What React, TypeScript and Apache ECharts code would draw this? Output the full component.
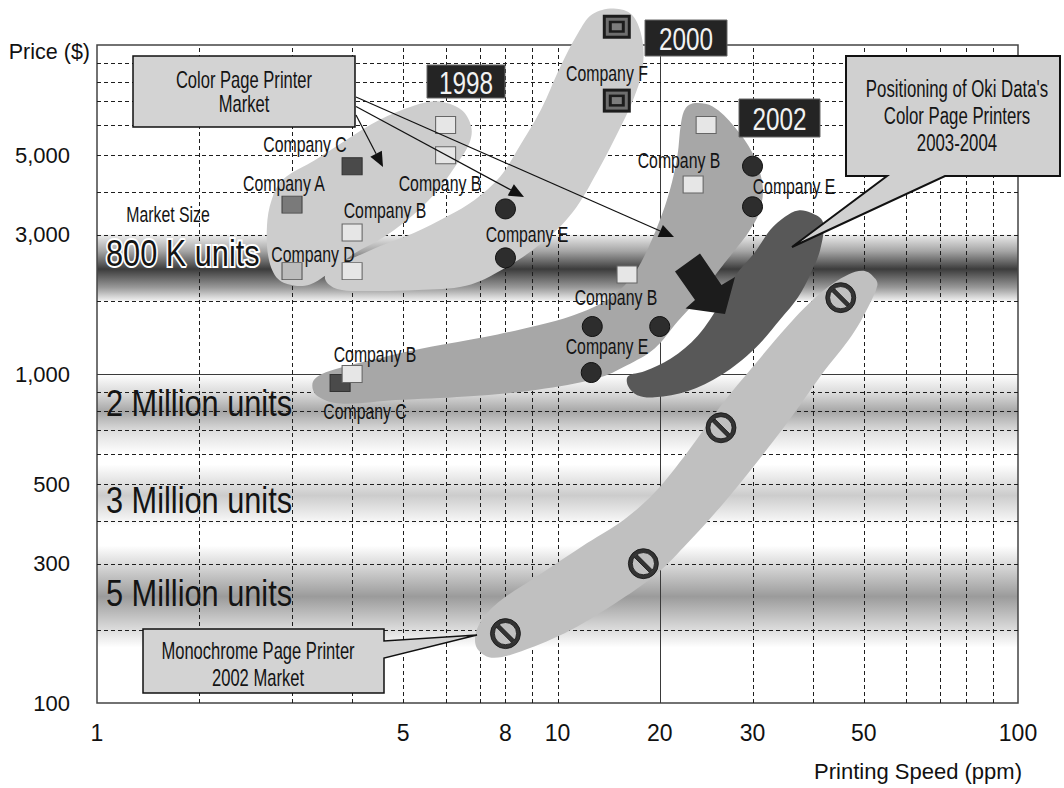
import React, { useEffect, useRef } from 'react';
import * as echarts from 'echarts';

const SANS = "'Liberation Sans', Arial, Helvetica, sans-serif";

// ---- axis scale of the original drawing (position of mantissa 1..10 inside a decade)
const MANTISSA = [1, 2, 3, 4, 5, 6, 7, 8, 9, 10];
const MANTISSA_POS = [0, 0.222, 0.4235, 0.554, 0.665, 0.757, 0.831, 0.887, 0.945, 1];

// ---- ticks
const xTickLabels = [1, 5, 8, 10, 20, 30, 50, 100];
const yTickLabels = [100, 300, 500, 1000, 3000, 5000];
const xGridDashed = [2, 3, 4, 5, 6, 7, 8, 9, 10, 30, 40, 50, 60, 70, 80, 90];
const xGridSolid = [20];
const yGridDashed = [200, 300, 400, 500, 600, 700, 800, 900, 2000, 3000, 4000, 5000, 6000, 7000, 8000, 9000];
const yGridSolid = [1000];

// ---- market size bands (price ranges)
const bandNames = ['800 K units', '2 Million units', '3 Million units', '5 Million units'];
const bandHigh = [3000, 1000, 565, 342];
const bandLow = [2000, 600, 387, 176];

// ---- product points [ppm, price $]
const co1998A = [[3, 3700]];
const co1998C = [[4, 4700]];
const co1998D = [[3, 2450]];
const co1998B = [[4, 3050], [4, 2450], [6, 6000], [6, 5000]];
const co2000E = [[8, 3600], [8, 2650]];
const co2000F = [[15.8, 12500], [15.8, 7000]];
const co2002C = [[3.8, 950]];
const co2002B = [[4, 1000], [16.8, 2400], [23.6, 4200], [25, 6000]];
const co2002E = [[13.3, 1020], [13.4, 1650], [20, 1650], [30, 3650], [30, 4700]];
const mono2002 = [[8, 195], [18.4, 300], [26.6, 710], [45.5, 2050]];

// ---- market regions (outline [ppm, price $])
const region1998 = [[6.75, 5950], [6.45, 6630], [5.8, 6970], [5.25, 6790], [4.55, 6220], [3.9, 5500], [3.4, 4880], [2.9, 4330], [2.78, 3810], [2.73, 3200], [2.75, 2630], [2.85, 2330], [3.05, 2230], [3.3, 2250], [3.55, 2380], [4.05, 2720], [4.55, 2930], [5.1, 3350], [5.75, 3960], [6.35, 4790], [6.7, 5400]];
const region2000 = [[4.05, 2660], [4.55, 2830], [5.25, 3040], [6.05, 3430], [6.85, 3810], [7.8, 4420], [8.45, 5180], [9.35, 6630], [10.3, 8830], [12, 11600], [13.4, 14200], [15.5, 15000], [17.3, 14100], [18.3, 10700], [18.3, 8650], [17.4, 7050], [15.9, 5750], [13.9, 4550], [11.5, 3530], [9.4, 2880], [7.9, 2480], [6.6, 2230], [5.35, 2165], [4.3, 2150], [3.75, 2180], [3.55, 2330], [3.65, 2540]];
const region2002 = [[23.8, 6900], [25.7, 6760], [28, 5960], [30, 5070], [31.7, 4140], [31.1, 3510], [29.6, 3070], [28.4, 2820], [26.2, 2430], [24.1, 2030], [21.9, 1715], [19.5, 1350], [16.8, 1120], [13.9, 976], [9.2, 913], [6.6, 877], [4.85, 858], [3.8, 840], [3.4, 885], [3.35, 958], [3.6, 1033], [4.5, 1213], [5.65, 1372], [7.2, 1507], [9.2, 1665], [11.5, 1800], [15, 2030], [17.1, 2330], [18.5, 2680], [19.9, 3270], [21.1, 4050], [21.9, 4970], [22.3, 6090], [22.8, 6700]];
const regionOki = [[16.9, 987], [18.5, 1037], [21.2, 1213], [24.1, 1525], [26.6, 1986], [28.1, 2374], [30.4, 2734], [33, 3120], [35.4, 3420], [37.6, 3565], [39.7, 3510], [42, 3300], [41.5, 2780], [39.6, 2400], [37.6, 2060], [34.7, 1756], [30.4, 1349], [26.6, 993], [23, 905], [19.5, 873], [17.8, 884], [16.9, 933]];
const regionMono = [[52.8, 2330], [50.4, 2450], [47, 2400], [41.7, 2130], [35.9, 1665], [30.3, 1122], [26.6, 830], [23, 608], [19.5, 477], [16.5, 403], [12.9, 348], [9.2, 281], [7.7, 241], [6.95, 205], [6.9, 177], [7.45, 162], [8.6, 171], [11.3, 200], [16.2, 246], [19.8, 286], [23, 348], [26.6, 440], [30.3, 562], [35.9, 742], [41.7, 995], [47.7, 1530], [51.2, 1936], [53.2, 2230]];

const REGIONS = [region1998, region2000, region2002, regionOki, regionMono];
const REGION_COLORS = ['#cdcdcd', '#cdcdcd', '#a7a7a7', '#585858', '#c0c0c0'];

const BAND_STOPS: [number, string][][] = [
  [[0, '#ececec'], [0.25, '#a5a5a5'], [0.52, '#3c3c3c'], [0.8, '#9a9a9a'], [1, '#f2f2f2']],
  [[0, '#ffffff'], [0.25, '#d8d8d8'], [0.47, '#a6a6a6'], [0.72, '#dedede'], [1, '#ffffff']],
  [[0, '#ffffff'], [0.5, '#cccccc'], [1, '#ffffff']],
  [[0, '#ffffff'], [0.5, '#9b9b9b'], [1, '#ffffff']],
];

function warp(v: number): number {
  const e = Math.floor(Math.log10(v) + 1e-9);
  const m = v / Math.pow(10, e);
  for (let i = 0; i < 9; i++) {
    if (m <= MANTISSA[i + 1] + 1e-9) {
      const t = (m - MANTISSA[i]) / (MANTISSA[i + 1] - MANTISSA[i]);
      return e + MANTISSA_POS[i] + t * (MANTISSA_POS[i + 1] - MANTISSA_POS[i]);
    }
  }
  return e + 1;
}
const toXY = (p: number[]) => [warp(p[0]), warp(p[1])];

function lookup(list: number[], fmt: (v: number) => string) {
  return (val: number) => {
    for (const v of list) if (Math.abs(warp(v) - val) < 1e-6) return fmt(v);
    return '';
  };
}

const PROHIBIT = 'path://M50 0A50 50 0 1 1 50 100A50 50 0 1 1 50 0ZM50 13A37 37 0 1 0 50 87A37 37 0 1 0 50 13ZM30 21L79 70L70 79L21 30Z';

// condensed-looking text: a regular face squeezed horizontally
function text(t: string, x: number, y: number, size: number, squeeze: number, extra: any = {}) {
  return {
    type: 'text', x, y, z: 100, silent: true, scaleX: squeeze, scaleY: 1,
    style: { text: t, fontSize: size, fontFamily: SANS, fill: '#141414', align: 'center', verticalAlign: 'middle', ...extra },
  };
}

function arrow(x1: number, y1: number, x2: number, y2: number) {
  const dx = x2 - x1, dy = y2 - y1;
  const len = Math.sqrt(dx * dx + dy * dy);
  const ux = dx / len, uy = dy / len;
  const L = 15, W = 6.5;
  const bx = x2 - ux * L, by = y2 - uy * L;
  return [
    { type: 'line', z: 100, silent: true, shape: { x1, y1, x2: bx, y2: by }, style: { stroke: '#111', lineWidth: 1.2 } },
    { type: 'polygon', z: 100, silent: true, shape: { points: [[x2, y2], [bx - uy * W, by + ux * W], [bx + uy * W, by - ux * W]] }, style: { fill: '#111' } },
  ];
}

function yearBox(label: string, x: number, y: number, w: number, h: number) {
  return [
    { type: 'rect', z: 100, silent: true, shape: { x, y, width: w, height: h }, style: { fill: '#242424', stroke: '#666', lineWidth: 1 } },
    text(label, x + w / 2, y + h / 2 + 1, 32, 0.76, { fill: '#f2f2f2' }),
  ];
}

const companyLabels: [string, number, number][] = [
  ['Company C', 305, 145], ['Company A', 284, 184], ['Company B', 440, 184], ['Company B', 385, 211],
  ['Company D', 313, 255], ['Company E', 527, 235], ['Company F', 607, 74], ['Company B', 679, 161],
  ['Company E', 794, 187], ['Company B', 616, 298], ['Company E', 607, 347], ['Company B', 375, 355],
  ['Company C', 365, 412],
];
const bandLabelY = [253, 403, 500, 593];

function buildOption(): any {
  const sq = (name: string, data: number[][], color: string, border: string, z = 5) => ({
    type: 'scatter', name, z, clip: false, silent: true,
    symbol: 'rect', symbolSize: [20, 17],
    itemStyle: { color, borderColor: border, borderWidth: 1, opacity: 1 },
    data: data.map(toXY),
  });
  const fLayer = (size: number[], color: string, z: number) => ({
    type: 'scatter', name: '2000 Company F', z, clip: false, silent: true,
    symbol: 'rect', symbolSize: size, itemStyle: { color, opacity: 1 },
    data: co2000F.map(toXY),
  });

  const graphic: any[] = [];
  companyLabels.forEach(([t, x, y]) => graphic.push(text(t, x, y, 22, 0.72)));
  graphic.push(text('Market Size', 168, 215, 22, 0.72));
  bandNames.forEach((t, i) => {
    graphic.push(text(t, 106, bandLabelY[i], 37, 0.83, i === 0
      ? { align: 'left', stroke: '#fff', lineWidth: 4, strokeFirst: true }
      : { align: 'left' }));
  });
  // Color page printer market callout
  graphic.push({ type: 'rect', z: 100, silent: true, shape: { x: 133, y: 56, width: 222, height: 71 }, style: { fill: '#d3d3d3', stroke: '#111', lineWidth: 1.5 } });
  graphic.push(text('Color Page Printer\nMarket', 244, 92, 23, 0.72, { lineHeight: 24 }));
  graphic.push(...arrow(356, 115, 383, 167));
  graphic.push(...arrow(356, 106.5, 524, 197));
  graphic.push(...arrow(356, 97, 674, 237));
  // Year boxes
  graphic.push(...yearBox('1998', 427, 65, 78, 33));
  graphic.push(...yearBox('2000', 645, 20, 82, 36));
  graphic.push(...yearBox('2002', 739, 99, 81, 38));
  // Oki callout
  graphic.push({
    type: 'polygon', z: 100, silent: true,
    shape: { points: [[846, 56], [1060, 56], [1060, 176], [945, 176], [792, 247], [887, 176], [846, 176]] },
    style: { fill: '#d0d0d0', stroke: '#111', lineWidth: 2 },
  });
  graphic.push(text("Positioning of Oki Data's\nColor Page Printers\n2003-2004", 957, 116, 23, 0.73, { lineHeight: 27 }));
  // Monochrome callout
  graphic.push({
    type: 'polygon', z: 100, silent: true,
    shape: { points: [[143, 629], [384, 629], [384, 641], [477, 635], [384, 658], [384, 693], [143, 693]] },
    style: { fill: '#d3d3d3', stroke: '#111', lineWidth: 1.5 },
  });
  graphic.push(text('Monochrome Page Printer\n2002 Market', 258, 664, 23, 0.72, { lineHeight: 27 }));
  // Big move arrow
  graphic.push({
    type: 'polygon', z: 100, silent: true,
    shape: { points: [[675, 271.5], [700, 253.5], [721.5, 285], [735, 277], [725, 314], [685.5, 308.5], [695, 300]] },
    style: { fill: '#1c1c1c' },
  });

  return {
    animation: false,
    backgroundColor: '#ffffff',
    grid: {
      left: 97, right: 46, top: 45, bottom: 85, show: true, z: 2,
      borderColor: '#444', borderWidth: 1.5, backgroundColor: 'transparent',
      containLabel: false, outerBoundsMode: 'none',
    },
    xAxis: {
      type: 'value', min: 0, max: 2,
      axisLine: { show: false }, axisTick: { show: false }, splitLine: { show: false },
      axisLabel: {
        customValues: xTickLabels.map(warp),
        formatter: lookup(xTickLabels, (v) => String(v)),
        fontSize: 23, fontFamily: SANS, color: '#111', margin: 18,
      },
      name: 'Printing Speed (ppm)', nameLocation: 'end', nameGap: 4,
      nameTextStyle: { align: 'right', verticalAlign: 'top', padding: [57, 0, 0, 0], fontSize: 22, fontFamily: SANS, color: '#111' },
    },
    yAxis: {
      type: 'value', min: 2, max: 4,
      axisLine: { show: false }, axisTick: { show: false }, splitLine: { show: false },
      axisLabel: {
        customValues: yTickLabels.map(warp),
        formatter: lookup(yTickLabels, (v) => v.toLocaleString('en-US')),
        fontSize: 22, fontFamily: SANS, color: '#111', margin: 27, padding: [10, 0, 0, 0],
      },
      name: 'Price ($)', nameLocation: 'end', nameGap: -7,
      nameTextStyle: { align: 'right', verticalAlign: 'middle', padding: [0, 7, 0, 0], fontSize: 21.5, fontFamily: SANS, color: '#111' },
    },
    graphic,
    series: [
      {
        type: 'custom', name: 'Market size bands', z: 1, silent: true,
        data: bandHigh.map((h, i) => [1, warp(bandLow[i]), warp(h), i]),
        encode: { x: 0, y: [1, 2] },
        renderItem: (_p: any, api: any) => {
          const i = api.value(3);
          const a = api.coord([0, api.value(2)]);
          const b = api.coord([2, api.value(1)]);
          return {
            type: 'rect',
            shape: { x: a[0], y: a[1], width: b[0] - a[0], height: b[1] - a[1] },
            style: { fill: new echarts.graphic.LinearGradient(0, 0, 0, 1, BAND_STOPS[i].map(([o, c]) => ({ offset: o, color: c }))) },
          };
        },
      },
      {
        type: 'custom', name: 'Grid', z: 3, silent: true,
        data: [
          ...xGridDashed.map((v) => [warp(v), 3, 0, 0]),
          ...xGridSolid.map((v) => [warp(v), 3, 0, 1]),
          ...yGridDashed.map((v) => [1, warp(v), 1, 0]),
          ...yGridSolid.map((v) => [1, warp(v), 1, 1]),
        ],
        encode: { x: 0, y: 1 },
        renderItem: (_p: any, api: any) => {
          const dir = api.value(2);
          const solid = api.value(3) === 1;
          const a = dir === 0 ? api.coord([api.value(0), 2]) : api.coord([0, api.value(1)]);
          const b = dir === 0 ? api.coord([api.value(0), 4]) : api.coord([2, api.value(1)]);
          const sx = dir === 0 ? Math.round(a[0]) + 0.5 : a[0];
          const sy = dir === 1 ? Math.round(a[1]) + 0.5 : a[1];
          return {
            type: 'line',
            shape: dir === 0 ? { x1: sx, y1: a[1], x2: sx, y2: b[1] } : { x1: a[0], y1: sy, x2: b[0], y2: sy },
            style: solid ? { stroke: '#3a3a3a', lineWidth: 1 } : { stroke: '#1e1e1e', lineWidth: 1, lineDash: [4, 3] },
          };
        },
      },
      {
        type: 'custom', name: 'Market regions', z: 4, silent: true,
        data: REGIONS.map((_r, i) => [1, 3, i]),
        encode: { x: 0, y: 1 },
        renderItem: (_p: any, api: any) => {
          const i = api.value(2);
          const pts = REGIONS[i].map((p) => api.coord(toXY(p)));
          return { type: 'polygon', shape: { points: pts, smooth: 0.35 }, style: { fill: REGION_COLORS[i] } };
        },
      },
      sq('1998 Company A', co1998A, '#7a7a7a', '#444'),
      sq('1998 Company C', co1998C, '#4a4a4a', '#333'),
      sq('1998 Company D', co1998D, '#bcbcbc', '#555'),
      sq('1998 Company B', co1998B, '#e6e6e6', '#666'),
      {
        type: 'scatter', name: '2000 Company E', z: 5, clip: false, silent: true,
        symbol: 'circle', symbolSize: 20,
        itemStyle: { color: '#2d2d2d', borderColor: '#111', borderWidth: 1, opacity: 1 },
        data: co2000E.map(toXY),
      },
      fLayer([28, 24], '#1c1c1c', 5),
      fLayer([22, 18], '#6e6e6e', 6),
      fLayer([16, 12], '#1c1c1c', 7),
      fLayer([10, 7], '#7c7c7c', 8),
      sq('2002 Company C', co2002C, '#4a4a4a', '#333', 5),
      sq('2002 Company B', co2002B, '#e6e6e6', '#666', 6),
      {
        type: 'scatter', name: '2002 Company E', z: 5, clip: false, silent: true,
        symbol: 'circle', symbolSize: 20,
        itemStyle: { color: '#2d2d2d', borderColor: '#111', borderWidth: 1, opacity: 1 },
        data: co2002E.map(toXY),
      },
      {
        type: 'scatter', name: 'Monochrome 2002', z: 5, clip: false, silent: true,
        symbol: PROHIBIT, symbolSize: 30,
        itemStyle: { color: '#333', borderColor: '#111', borderWidth: 0.8, opacity: 1 },
        data: mono2002.map(toXY),
      },
    ],
  };
}

export default function App() {
  const ref = useRef<HTMLDivElement>(null);
  useEffect(() => {
    if (!ref.current) return;
    const chart = echarts.init(ref.current, undefined, { renderer: 'svg' });
    chart.setOption(buildOption());
    return () => chart.dispose();
  }, []);
  return (
    <div
      ref={ref}
      style={{ position: 'absolute', left: 0, top: 0, width: 1064, height: 788, background: '#fff' }}
    />
  );
}
